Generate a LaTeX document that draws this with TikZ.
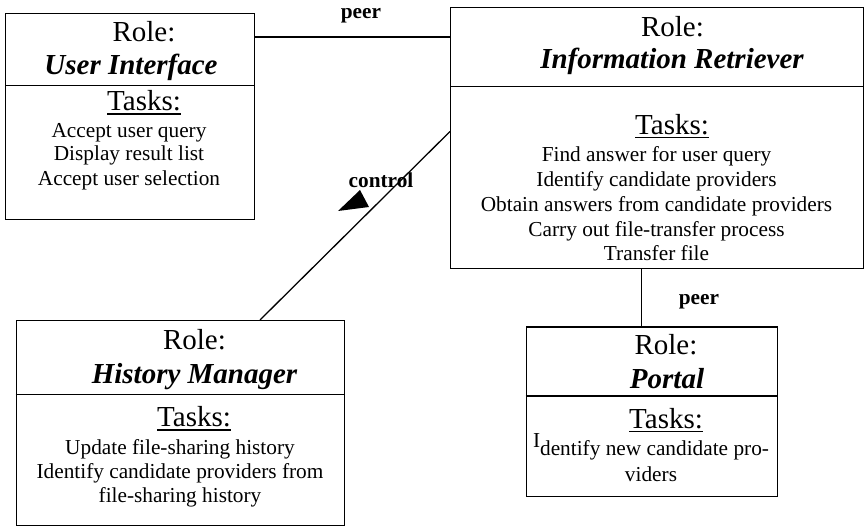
\documentclass[tikz,border=0pt]{standalone}
\usepackage{fontspec}
\setmainfont{Liberation Serif}
\usetikzlibrary{calc}

% type sizes for the role boxes
\newcommand\headsize{\fontsize{29}{33}\selectfont}
\newcommand\tasksize{\fontsize{21.3}{24.5}\selectfont}
% heading with a rule drawn under it
\newsavebox\headbox
\newcommand\taskhead[1]{\sbox\headbox{#1}\rlap{\rule[-3.8pt]{\wd\headbox}{1.3pt}}\usebox\headbox}

\begin{document}
\begin{tikzpicture}[x=1pt,y=-1pt,
  rolebox/.style={draw, line width=1.4pt, inner sep=0pt, anchor=north west},
  head/.style={anchor=base, inner sep=0pt, font=\headsize},
  title/.style={anchor=base, inner sep=0pt, font=\headsize\bfseries\itshape},
  task/.style={anchor=base, inner sep=0pt, font=\tasksize},
  rel/.style={anchor=base, inner sep=0pt, font=\tasksize\bfseries},
  link/.style={line width=1.3pt},
  divider/.style={line width=1.4pt}]

\useasboundingbox (0,0) rectangle (865,526);

% role boxes
\node[rolebox, minimum width=249pt, minimum height=206pt] (ui) at (5,13) {};
\node[rolebox, minimum width=413pt, minimum height=261pt] (ir) at (450,7) {};
\node[rolebox, minimum width=328pt, minimum height=205pt] (hm) at (15.5,320) {};
\node[rolebox, minimum width=251pt, minimum height=169.5pt] (po) at (525.5,326.5) {};

% dividers between role name and task list
\draw[divider] ($(ui.north west)+(0,72.6)$) -- ($(ui.north east)+(0,72.6)$);
\draw[divider] ($(ir.north west)+(0,79.6)$) -- ($(ir.north east)+(0,79.6)$);
\draw[divider] ($(hm.north west)+(0,74.3)$) -- ($(hm.north east)+(0,74.3)$);
\draw[divider] ($(po.north west)+(0,69.5)$) -- ($(po.north east)+(0,69.5)$);

% User Interface
\node[head]  (uirole)  at (144,41.5) {Role:};
\node[title] (uititle) at (131,74.5) {User Interface};
\node[head]  (uitasks) at (144,111)  {\taskhead{Tasks:}};
\node[task]  (uit1)    at (129,137.5) {Accept user query};
\node[task]  (uit2)    at (129,161)   {Display result list};
\node[task]  (uit3)    at (129,186)   {Accept user selection};

% Information Retriever
\node[head]  (irrole)  at (672.5,36.5) {Role:};
\node[title] (irtitle) at (672,69)     {Information Retriever};
\node[head]  (irtasks) at (672,134.5)  {\taskhead{Tasks:}};
\node[task]  (irt1)    at (656.5,162)   {Find answer for user query};
\node[task]  (irt2)    at (656.5,187)   {Identify candidate providers};
\node[task]  (irt3)    at (656.5,211.5) {Obtain answers from candidate providers};
\node[task]  (irt4)    at (656.5,236.5) {Carry out file-transfer process};
\node[task]  (irt5)    at (656.5,261)   {Transfer file};

% History Manager
\node[head]  (hmrole)  at (194.5,349.5) {Role:};
\node[title] (hmtitle) at (194.5,383.5) {History Manager};
\node[head]  (hmtasks) at (194,427)     {\taskhead{Tasks:}};
\node[task]  (hmt1)    at (180,454)   {Update file-sharing history};
\node[task]  (hmt2)    at (180,478.5) {Identify candidate providers from};
\node[task]  (hmt3)    at (180,502.5) {file-sharing history};

% Portal
\node[head]  (porole)  at (666,355)   {Role:};
\node[title] (potitle) at (667,388.5) {Portal};
\node[head]  (potasks) at (666,428.5) {\taskhead{Tasks:}};
\node[task]  (pot1)    at (651,456)   {\raisebox{8pt}{I}dentify new candidate pro-};
\node[task]  (pot2)    at (651,481)   {viders};

% peer link: User Interface -- Information Retriever
\coordinate (pA) at ($(ui.north east)+(0,24)$);
\draw[link] (pA) -- (pA -| ir.west);
\node[rel] (peerA) at (361,18.5) {peer};

% control link: Information Retriever -- History Manager
\draw[link] ($(ir.north west)+(0,124.5)$) -- ($(hm.north west)+(244.5,0)$);
\fill (338,211) -- (360,190) -- (369,207) -- cycle;
\node[rel] (ctrl) at (381,188) {control};

% peer link: Information Retriever -- Portal
\coordinate (pB) at ($(ir.south west)+(191.5,0)$);
\draw[link] (pB) -- (pB |- po.north);
\node[rel] (peerB) at (699,305) {peer};

\end{tikzpicture}
\end{document}
